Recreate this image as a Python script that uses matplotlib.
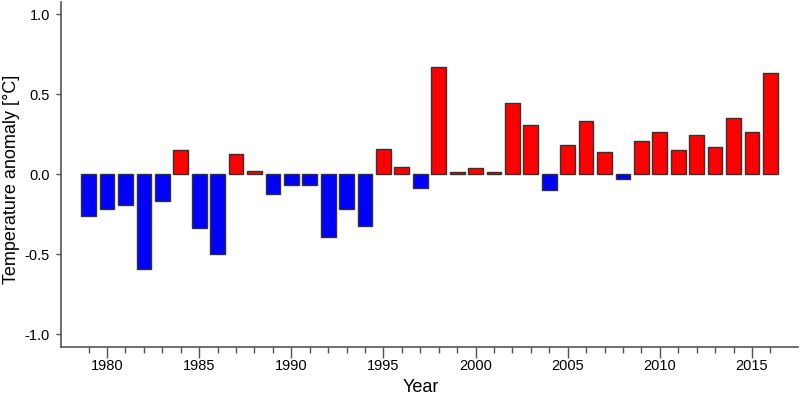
import matplotlib
matplotlib.use("Agg")
import matplotlib.pyplot as plt
import numpy as np

plt.rcParams['font.family'] = ['Liberation Sans', 'DejaVu Sans']

years = list(range(1979, 2017))
anomaly = [-0.26, -0.215, -0.196, -0.594, -0.171, 0.152, -0.337, -0.498, 0.123, 0.019,
           -0.125, -0.065, -0.069, -0.392, -0.221, -0.327, 0.154, 0.044, -0.088, 0.671,
           0.015, 0.035, 0.015, 0.446, 0.306, -0.098, 0.181, 0.333, 0.137, -0.033,
           0.204, 0.26, 0.152, 0.244, 0.167, 0.35, 0.26, 0.633]
major_years = [1980, 1985, 1990, 1995, 2000, 2005, 2010, 2015]
y_ticks = [-1.0, -0.5, 0.0, 0.5, 1.0]

colors = ['red' if v > 0 else 'blue' for v in anomaly]

fig = plt.figure(figsize=(8, 4), dpi=100)
ax = fig.add_axes([0.07625, 0.1325, 0.92125, 0.8625])
ax.bar(years, anomaly, width=0.8, color=colors, edgecolor='#333333', linewidth=1.0)

ax.set_xlim(1977.5, 2017.5)
ax.set_ylim(-1.08, 1.075)
ax.set_yticks(y_ticks)
ax.set_yticklabels([f"{t:.1f}" for t in y_ticks])
ax.set_xticks(major_years)
ax.set_xticks(years, minor=True)
ax.tick_params(axis='y', which='major', labelsize=10.5, length=3.6, pad=4.3,
               color='#555555', width=1)
ax.tick_params(axis='x', which='major', labelsize=10.5, length=7.9, pad=1.1,
               color='#555555', width=1)
ax.tick_params(axis='x', which='minor', length=4.3, color='#555555', width=1)
for s in ['top', 'right']:
    ax.spines[s].set_visible(False)
for s in ['left', 'bottom']:
    ax.spines[s].set_color('#555555')
    ax.spines[s].set_linewidth(1.2)
ax.set_xlabel('Year', fontsize=13)
ax.set_ylabel('Temperature anomaly [°C]', fontsize=13)
ax.xaxis.set_label_coords(0.4885, -0.094)
ax.yaxis.set_label_coords(-0.056, 0.487)

fig.savefig('out.png', dpi=100)
